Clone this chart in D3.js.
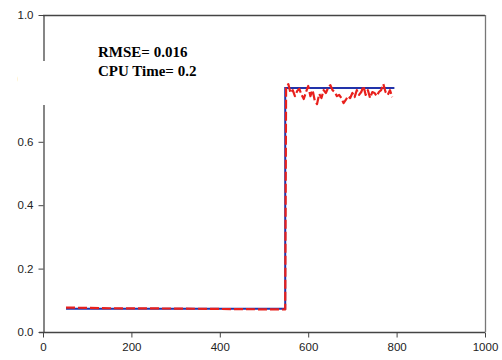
<!DOCTYPE html>
<html>
<head>
<meta charset="utf-8">
<script src="https://cdn.jsdelivr.net/npm/d3@7"></script>
<style>
  html, body { margin: 0; padding: 0; background: #fff; }
  svg { display: block; }
</style>
</head>
<body>
<svg id="chart" width="502" height="360"></svg>
<script>
// Reference step profile (solid blue)
const refX = [52, 548, 548, 795];
const refY = [0.073, 0.073, 0.770, 0.770];

// Estimated profile (dashed red)
const estX = [52, 150, 300, 450, 545, 548, 550, 555, 560, 565, 570, 575, 580, 585, 590, 595,
  600, 605, 610, 615, 620, 625, 630, 635, 640, 645, 650, 655, 660, 665, 670, 675,
  680, 685, 690, 695, 700, 705, 710, 715, 720, 725, 730, 735, 740, 745, 750, 755,
  760, 765, 770, 775, 780, 785, 790];
const estY = [0.077, 0.075, 0.074, 0.072, 0.071, 0.071, 0.770, 0.782, 0.754, 0.763, 0.744, 0.760, 0.767, 0.748, 0.735, 0.757,
  0.776, 0.744, 0.763, 0.729, 0.719, 0.751, 0.738, 0.763, 0.754, 0.770, 0.779, 0.763, 0.757, 0.744, 0.748, 0.738,
  0.722, 0.732, 0.744, 0.738, 0.754, 0.741, 0.763, 0.748, 0.757, 0.776, 0.748, 0.763, 0.738, 0.757, 0.754, 0.744,
  0.757, 0.763, 0.782, 0.757, 0.748, 0.763, 0.741];

const xTicks = [0, 200, 400, 600, 800, 1000];
const yTicks = [0.0, 0.2, 0.4, 0.6, 0.8, 1.0];
const notes = ["RMSE= 0.016", "CPU Time= 0.2"];

const svg = d3.select("#chart");
const L = 43, R = 485, T = 15, B = 332;

const x = d3.scaleLinear().domain([0, 1000]).range([L, R]);
const y = d3.scaleLinear().domain([0, 1]).range([B, T]);

const axisColor = "#444";
const labelFont = "Liberation Sans, Arial, sans-serif";

// Frame: top and right borders
svg.append("line").attr("x1", L).attr("x2", R).attr("y1", T + 0.5).attr("y2", T + 0.5)
  .attr("stroke", axisColor).attr("stroke-width", 1.3);
svg.append("line").attr("x1", R + 0.5).attr("x2", R + 0.5).attr("y1", T).attr("y2", B)
  .attr("stroke", "#777").attr("stroke-width", 1.3);

// X axis
const gx = svg.append("g").attr("transform", `translate(0,${B + 0.5})`)
  .call(d3.axisBottom(x).tickValues(xTicks).tickFormat(d3.format("d")).tickSize(5).tickSizeOuter(0).tickPadding(5));
gx.select(".domain").attr("stroke", axisColor).attr("stroke-width", 1.3).attr("d", `M${L - 4},0H${R}`);
gx.selectAll(".tick line").attr("stroke", axisColor);
gx.selectAll(".tick text").attr("font-family", labelFont).attr("font-size", 11.5).attr("fill", "#222");

// Y axis
const gy = svg.append("g").attr("transform", `translate(${L + 0.5},0)`)
  .call(d3.axisLeft(y).tickValues(yTicks).tickFormat(d3.format(".1f")).tickSize(5).tickSizeOuter(0).tickPadding(5));
gy.select(".domain").attr("stroke", axisColor).attr("stroke-width", 1.3);
gy.selectAll(".tick line").attr("stroke", axisColor);
gy.selectAll(".tick text").attr("font-family", labelFont).attr("font-size", 11.5).attr("fill", "#222");

const line = d3.line().x(d => x(d[0])).y(d => y(d[1]));

svg.append("path").datum(refX.map((v, i) => [v, refY[i]]))
  .attr("d", line).attr("fill", "none").attr("stroke", "#2233aa").attr("stroke-width", 2);

svg.append("path").datum(estX.map((v, i) => [v, estY[i]]))
  .attr("d", line).attr("fill", "none").attr("stroke", "#e8201c").attr("stroke-width", 2.2)
  .attr("stroke-dasharray", "9,3").attr("stroke-linejoin", "round");

// Annotation box (opaque, sits over the axis)
svg.append("rect").attr("x", 17.5).attr("y", 61).attr("width", 200).attr("height", 44).attr("fill", "#fff");

svg.append("g").selectAll("text").data(notes).join("text")
  .attr("x", 98).attr("y", (d, i) => 57 + i * 18.5)
  .attr("font-family", "Liberation Serif, Times New Roman, serif")
  .attr("font-weight", "bold").attr("font-size", 15).attr("fill", "#000")
  .text(d => d);
</script>
</body>
</html>
